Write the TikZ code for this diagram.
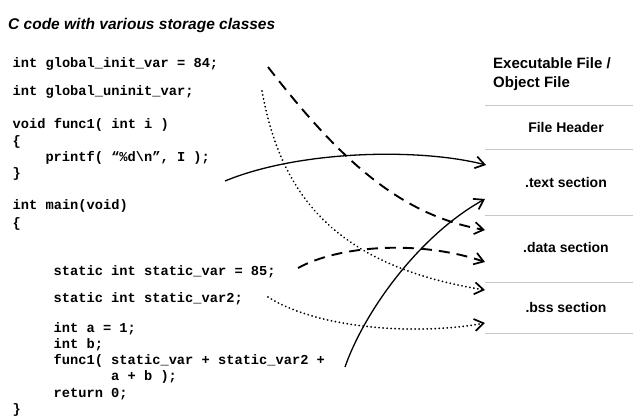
\documentclass[tikz,border=0pt]{standalone}
\usepackage{fontspec}
\setmainfont{Liberation Sans}
\setmonofont{Liberation Mono}
\usetikzlibrary{arrows.meta}
\begin{document}
\begin{tikzpicture}[x=1pt,y=-1pt,
  code/.style={anchor=base west, inner sep=0pt, font=\ttfamily\bfseries\fontsize{13.7}{16}\selectfont},
  lbl/.style={anchor=base, inner sep=0pt, font=\bfseries\fontsize{14}{16}\selectfont},
  sepline/.style={draw=black!22, line width=0.6pt},
  conn/.style={line width=1.3pt, -{Straight Barb[length=9pt,width=12pt,line width=1.7pt]}},
  dashconn/.style={conn, line width=1.9pt, dash pattern=on 11pt off 7pt},
  dotconn/.style={conn, line width=2pt, dash pattern=on 0.01pt off 4pt, line cap=round},
]
\useasboundingbox (0,0) rectangle (633,420);
\fill[white] (0,0) rectangle (633,420);

\node[anchor=base west, inner sep=0pt, font=\bfseries\itshape\fontsize{15.5}{18}\selectfont] (title) at (8,30) {C code with various storage classes};

% code
\node[code] (c1) at (12.5,68) {int global\_init\_var = 84;};
\node[code] (c2) at (12.5,96) {int global\_uninit\_var;};
\node[code] (c3) at (12.5,129) {void func1( int i )};
\node[code] (c4) at (12.5,146) {\{};
\node[code] (c5) at (45.3,162) {printf( “\%d\textbackslash n”, I );};
\node[code] (c6) at (12.5,178) {\}};
\node[code] (c7) at (12.5,210) {int main(void)};
\node[code] (c8) at (12.5,227) {\{};
\node[code] (c9) at (53.5,275) {static int static\_var = 85;};
\node[code] (c10) at (53.5,302) {static int static\_var2;};
\node[code] (c11) at (53.5,332) {int a = 1;};
\node[code] (c12) at (53.5,348) {int b;};
\node[code] (c13) at (53.5,364) {func1( static\_var + static\_var2 +};
\node[code] (c14) at (111,380) {a + b );};
\node[code] (c15) at (53.5,397) {return 0;};
\node[code] (c16) at (12.5,413) {\}};

% right side
\node[lbl, anchor=base west, font=\bfseries\fontsize{15}{17}\selectfont] (exe1) at (493,69) {Executable File /};
\node[lbl, anchor=base west, font=\bfseries\fontsize{15}{17}\selectfont] (exe2) at (493,88) {Object File};
\node[lbl] (hdr) at (566,132) {File Header};
\node[lbl] (txt) at (566,187) {.text section};
\node[lbl] (dat) at (566,252) {.data section};
\node[lbl] (bss) at (566,312) {.bss section};

\foreach \yy in {105,149,215,282,333} {
  \draw[sepline] (485,\yy) -- (633,\yy);
}

% connector ends
\coordinate (sA) at (225,181);
\coordinate (eA) at (486,165);
\coordinate (sB) at (345,367);
\coordinate (eB) at (485,199);
\coordinate (sC) at (268,67);
\coordinate (eC) at (485,230);
\coordinate (sD) at (298,268);
\coordinate (eD) at (485,262);
\coordinate (sE) at (262,91);
\coordinate (eE) at (485,290);
\coordinate (sF) at (268,297);
\coordinate (eF) at (485,323);

\draw[conn] (sA) .. controls (300,150) and (420,148) .. (eA);
\draw[conn] (sB) .. controls (365,310) and (420,235) .. (eB);
\draw[dashconn] (sC) .. controls (340,160) and (400,215) .. (eC);
\draw[dashconn] (sD) .. controls (340,245) and (420,240) .. (eD);
\draw[dotconn] (sE) .. controls (280,190) and (330,265) .. (eE);
\draw[dotconn] (sF) .. controls (320,330) and (420,335) .. (eF);
\end{tikzpicture}
\end{document}
